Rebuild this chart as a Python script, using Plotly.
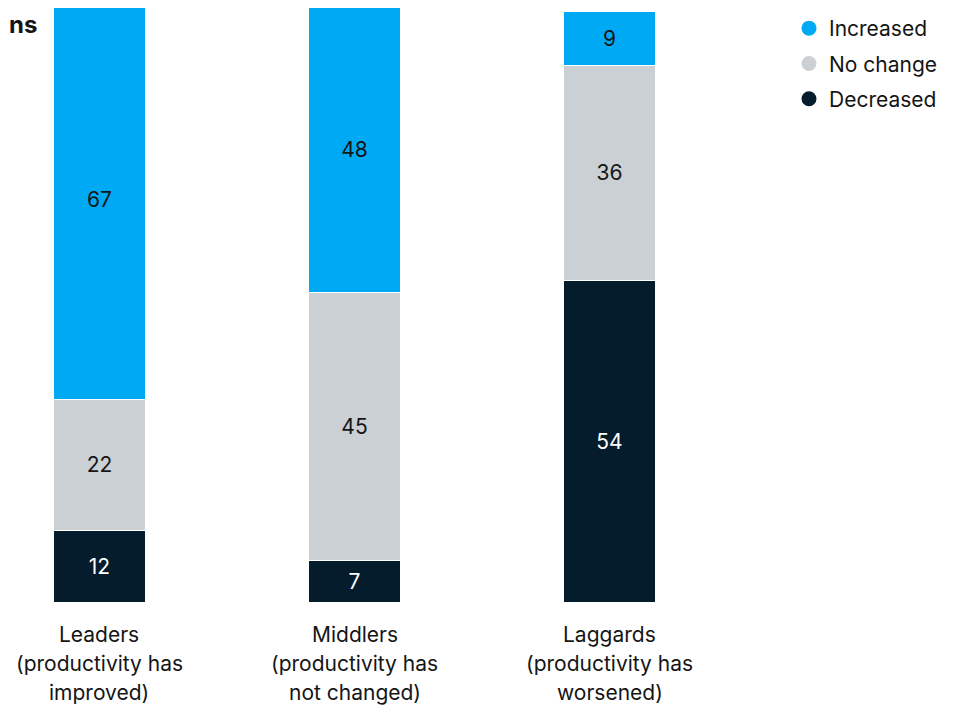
import plotly.graph_objects as go

categories = ["Leaders", "Middlers", "Laggards"]
subtitles = ["(productivity has<br>improved)", "(productivity has<br>not changed)", "(productivity has<br>worsened)"]
decreased = [12, 7, 54]
no_change = [22, 45, 36]
increased = [67, 48, 9]

C_BLUE = "#00A9F4"
C_GRAY = "#CBD0D4"
C_DARK = "#051C2C"
C_TEXT = "#151515"
FONT = "Inter"

fig = go.Figure()
series = [
    ("Decreased", decreased, C_DARK, "white"),
    ("No change", no_change, C_GRAY, C_TEXT),
    ("Increased", increased, C_BLUE, C_TEXT),
]
for name, vals, col, tcol in series:
    fig.add_trace(go.Bar(
        x=categories, y=vals, name=name,
        marker=dict(color=col, line=dict(color="white", width=1)),
        width=0.357, text=[str(v) for v in vals], textposition="inside",
        insidetextanchor="middle", textangle=0,
        textfont=dict(color=tcol, size=21, family=FONT), showlegend=False,
        hoverinfo="skip",
    ))

# legend entries with circle markers
for name, vals, col, tcol in reversed(series):
    fig.add_trace(go.Scatter(
        x=[None], y=[None], mode="markers", name=name,
        marker=dict(color=col, size=15, symbol="circle"),
        legendgroup=name, showlegend=True,
    ))

# category labels below bars
for cat, sub in zip(categories, subtitles):
    fig.add_annotation(x=cat, y=0, yref="y", xref="x", yshift=-18, text=cat,
                       showarrow=False, yanchor="top",
                       font=dict(size=21, family=FONT, color=C_TEXT))
    for j, ln in enumerate(sub.split("<br>")):
        fig.add_annotation(x=cat, y=0, yref="y", xref="x", yshift=-47 - 28.5 * j, text=ln,
                           showarrow=False, yanchor="top",
                           font=dict(size=21, family=FONT, color=C_TEXT))

fig.add_annotation(x=0, y=1, xref="paper", yref="paper", text="<b>ns</b>", showarrow=False,
                   xanchor="left", yanchor="top", xshift=-1, yshift=0,
                   font=dict(size=24, family=FONT, color=C_TEXT))

fig.update_layout(
    width=960, height=709, barmode="stack",
    margin=dict(l=0, r=180, t=0, b=115, pad=0),
    plot_bgcolor="white", paper_bgcolor="white",
    xaxis=dict(range=[-0.3588, 2.700], showticklabels=False, showgrid=False,
               zeroline=False, showline=False, ticks=""),
    yaxis=dict(range=[0, 99.66], visible=False),
    legend=dict(x=1.0 + 1 / 780, xanchor="left", y=1.0, yanchor="top",
                xref="paper", yref="paper",
                font=dict(size=21, family=FONT, color=C_TEXT), tracegroupgap=5,
                bgcolor="rgba(0,0,0,0)"),
    font=dict(family=FONT),
)

fig.write_html("out.html")
